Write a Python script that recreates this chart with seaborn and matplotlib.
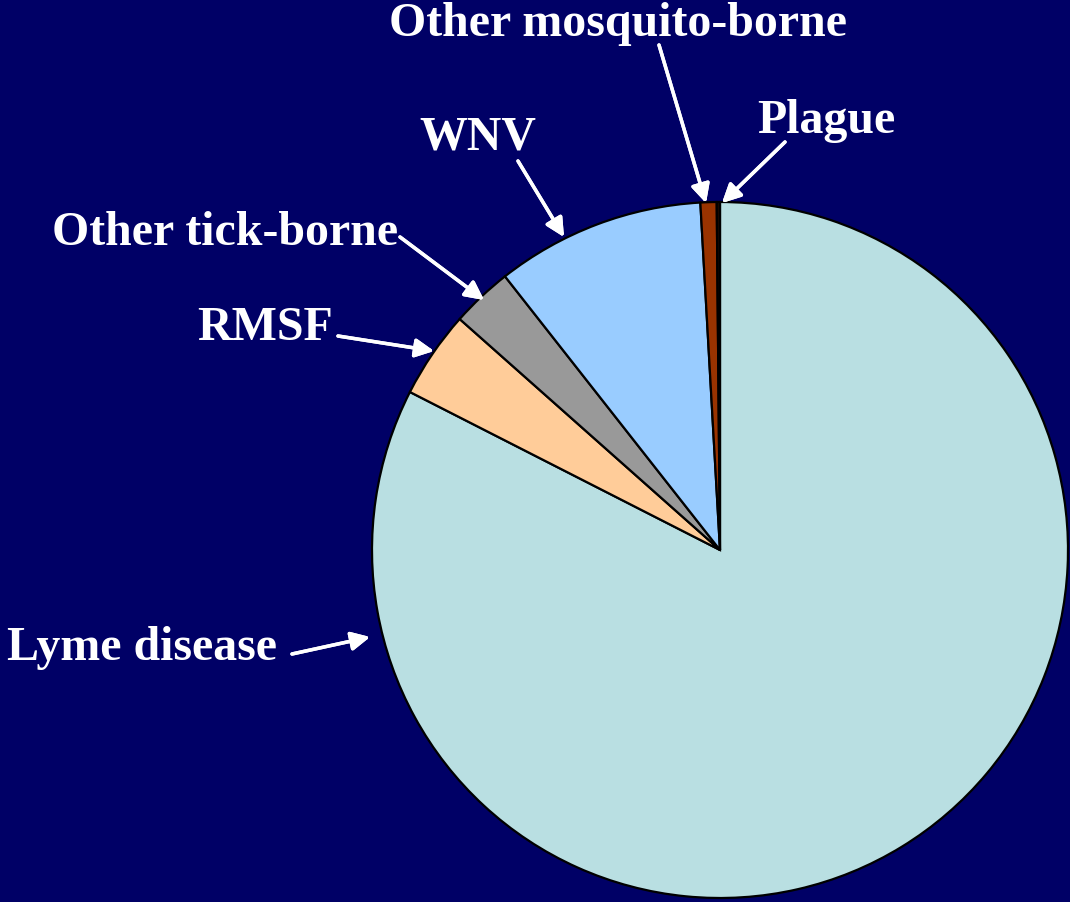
import matplotlib
matplotlib.use("Agg")
import matplotlib.pyplot as plt
import seaborn as sns

# Share of reported vector-borne disease cases
categories = ["Lyme disease", "RMSF", "Other tick-borne", "WNV",
              "Other mosquito-borne", "Plague"]
shares = [82.5, 4.05, 2.85, 9.7, 0.75, 0.15]
colors = ["#B9DFE2", "#FFCC99", "#999999", "#99CCFF", "#993300", "#1A0A00"]

sns.set_theme(style="white")
plt.rcParams["font.family"] = ["Liberation Serif", "DejaVu Serif"]

BG = "#000066"
W, H = 1070, 903
fig = plt.figure(figsize=(W / 100, H / 100), dpi=100, facecolor=BG)

cx, cy, r = 720, 551, 348
ax = fig.add_axes([(cx - r) / W, (H - cy - r) / H, 2 * r / W, 2 * r / H])
ax.set_facecolor(BG)
wedges, _ = ax.pie(shares, colors=colors, startangle=90, counterclock=False,
                   wedgeprops=dict(edgecolor="black", linewidth=1.6), radius=1.0)
for w in wedges:
    w.set_clip_on(False)
ax.set_xlim(-1.0, 1.0)
ax.set_ylim(-1.0, 1.0)
ax.set_aspect("equal")
ax.axis("off")

# label text positions (pixel, from top) and arrow (start -> tip)
labels = {
    "Lyme disease":        dict(tx=7,   ty=648, ha="left",   start=(292, 655), tip=(370, 638)),
    "RMSF":                dict(tx=197, ty=328, ha="left",   start=(338, 337), tip=(434, 352)),
    "Other tick-borne":    dict(tx=52,  ty=233, ha="left",   start=(400, 238), tip=(484, 301)),
    "WNV":                 dict(tx=478, ty=137, ha="center", start=(518, 162), tip=(564, 238)),
    "Other mosquito-borne": dict(tx=618, ty=24, ha="center", start=(659, 46),  tip=(706, 204)),
    "Plague":              dict(tx=826, ty=121, ha="center", start=(785, 143), tip=(722, 204)),
}

for name in categories:
    p = labels[name]
    fig.text(p["tx"] / W, 1 - p["ty"] / H, name, ha=p["ha"], va="center",
             color="white", fontsize=34.5, fontweight="bold")
    fig.add_artist(plt.annotate(
        "", xy=(p["tip"][0], H - p["tip"][1]), xycoords="figure pixels",
        xytext=(p["start"][0], H - p["start"][1]), textcoords="figure pixels",
        arrowprops=dict(arrowstyle="-|>", color="white", lw=2.5,
                        mutation_scale=28, shrinkA=0, shrinkB=0)))

fig.savefig("out.png", dpi=100, facecolor=BG)
